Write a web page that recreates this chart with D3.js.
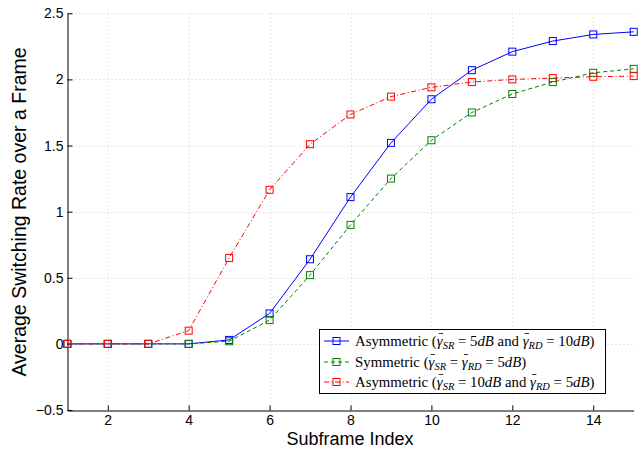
<!DOCTYPE html>
<html><head><meta charset="utf-8">
<script src="https://cdn.jsdelivr.net/npm/d3@7"></script>
<style>
body{margin:0;background:#fff;}
svg{display:block;font-family:"Liberation Sans",Arial,sans-serif;}
</style></head>
<body>
<svg id="chart" width="639" height="449"></svg>
<script>
const subframes = [1,2,3,4,5,6,7,8,9,10,11,12,13,14,15];
const asymA = [0,0,0,0,0.03,0.23,0.64,1.11,1.52,1.85,2.07,2.21,2.29,2.34,2.36];
const symm  = [0,0,0,0,0.02,0.18,0.52,0.90,1.25,1.54,1.75,1.89,1.98,2.05,2.08];
const asymB = [0,0,0,0.10,0.65,1.165,1.51,1.735,1.87,1.94,1.98,2.00,2.01,2.02,2.025];
const xTicks = [2,4,6,8,10,12,14];
const yTicks = [-0.5,0,0.5,1,1.5,2,2.5];
const xLabel = "Subframe Index";
const yLabel = "Average Switching Rate over a Frame";

// "g" marks a gamma with a bar above it
const series = [
  {values: asymA, color:"#0000ff", dash:null,
   label:[["Asymmetric (",""],["γ","g"],["SR","s"],[" = 5",""],["dB","i"],[" and ",""],["γ","g"],["RD","s"],[" = 10",""],["dB","i"],[")",""]]},
  {values: symm, color:"#008000", dash:"4,3",
   label:[["Symmetric (",""],["γ","g"],["SR","s"],[" = ",""],["γ","g"],["RD","s"],[" = 5",""],["dB","i"],[")",""]]},
  {values: asymB, color:"#ff0000", dash:"5,2.5,1,2.5",
   label:[["Asymmetric (",""],["γ","g"],["SR","s"],[" = 10",""],["dB","i"],[" and ",""],["γ","g"],["RD","s"],[" = 5",""],["dB","i"],[")",""]]}
];

const svg = d3.select("#chart");
const L=67.3, R=633.7, T=13.3, B=410;
const x = d3.scaleLinear().domain([1,15]).range([L,R]);
const y = d3.scaleLinear().domain([-0.5,2.5]).range([B,T]);

// grid
const grid = svg.append("g").attr("stroke","#d0d0d0").attr("stroke-width",1).attr("stroke-dasharray","1,3");
grid.selectAll("line.gx").data(xTicks).join("line")
  .attr("x1",d=>Math.round(x(d))+0.5).attr("x2",d=>Math.round(x(d))+0.5).attr("y1",T).attr("y2",B);
grid.selectAll("line.gy").data(yTicks.filter(d=>d>-0.5)).join("line")
  .attr("y1",d=>Math.round(y(d))+0.5).attr("y2",d=>Math.round(y(d))+0.5).attr("x1",L).attr("x2",R);

// axes
const xAxis = d3.axisBottom(x).tickValues(xTicks).tickSizeInner(-5).tickSizeOuter(0).tickPadding(5);
const yAxis = d3.axisLeft(y).tickValues(yTicks).tickSizeInner(-5).tickSizeOuter(0).tickPadding(4)
  .tickFormat(d=>d3.format("")(d).replace("-","\u2212"));
const gx = svg.append("g").attr("transform",`translate(0,${Math.round(B)+0.5})`).call(xAxis);
const gy = svg.append("g").attr("transform",`translate(${Math.round(L)+0.5},0)`).call(yAxis);
[gx,gy].forEach(g=>{
  g.select(".domain").attr("stroke","#000");
  g.selectAll(".tick line").attr("stroke","#000");
  g.selectAll(".tick text").attr("font-size",14).attr("fill","#000").attr("font-family","Liberation Sans, Arial, sans-serif");
});
gx.selectAll(".tick text").attr("dy","0.71em");

// lines
const line = d3.line().x((d,i)=>x(subframes[i])).y(d=>y(d));
series.forEach(s=>{
  const g = svg.append("g");
  g.append("path").datum(s.values).attr("d",line).attr("fill","none")
    .attr("stroke",s.color).attr("stroke-width",1).attr("stroke-dasharray",s.dash);
  g.selectAll("rect").data(s.values).join("rect")
    .attr("x",(d,i)=>x(subframes[i])-3.5).attr("y",d=>y(d)-3.5)
    .attr("width",7).attr("height",7).attr("fill","none").attr("stroke",s.color).attr("stroke-width",1);
});

// axis labels
svg.append("text").attr("x",350).attr("y",445).attr("text-anchor","middle")
  .attr("font-size",18).text(xLabel);
svg.append("text").attr("transform","translate(26,212) rotate(-90)").attr("text-anchor","middle")
  .attr("font-size",19.5).text(yLabel);

// legend
const lg = svg.append("g");
lg.append("rect").attr("x",319.5).attr("y",329.5).attr("width",286).attr("height",64)
  .attr("fill","#fff").attr("stroke","#000").attr("stroke-width",1);
const rowY = [341,362,382];
series.forEach((s,i)=>{
  const yy = rowY[i];
  lg.append("line").attr("x1",324).attr("x2",349).attr("y1",yy).attr("y2",yy)
    .attr("stroke",s.color).attr("stroke-width",1).attr("stroke-dasharray",s.dash);
  lg.append("rect").attr("x",336.5-3.5).attr("y",yy-3.5).attr("width",7).attr("height",7)
    .attr("fill","none").attr("stroke",s.color);
  const t = lg.append("text").attr("x",355).attr("y",yy+5)
    .attr("font-family","Liberation Serif, DejaVu Serif, serif").attr("font-size",14.8).attr("fill","#000");
  let sub=false, idx=0; const bars=[];
  s.label.forEach(([txt,kind])=>{
    const ts = t.append("tspan").text(txt);
    if(kind!=="") ts.attr("font-style","italic");
    if(kind==="s"){ ts.attr("font-size",10.5).attr("dy",3); sub=true; }
    else if(sub){ ts.attr("dy",-3); sub=false; }
    if(kind==="g") bars.push(idx);
    idx += txt.length;
  });
  bars.forEach(ci=>{
    const e = t.node().getExtentOfChar(ci);
    lg.append("line").attr("x1",e.x+2).attr("x2",e.x+e.width+0.5)
      .attr("y1",yy-7.5).attr("y2",yy-7.5).attr("stroke","#000").attr("stroke-width",0.8);
  });
});
</script>
</body></html>
